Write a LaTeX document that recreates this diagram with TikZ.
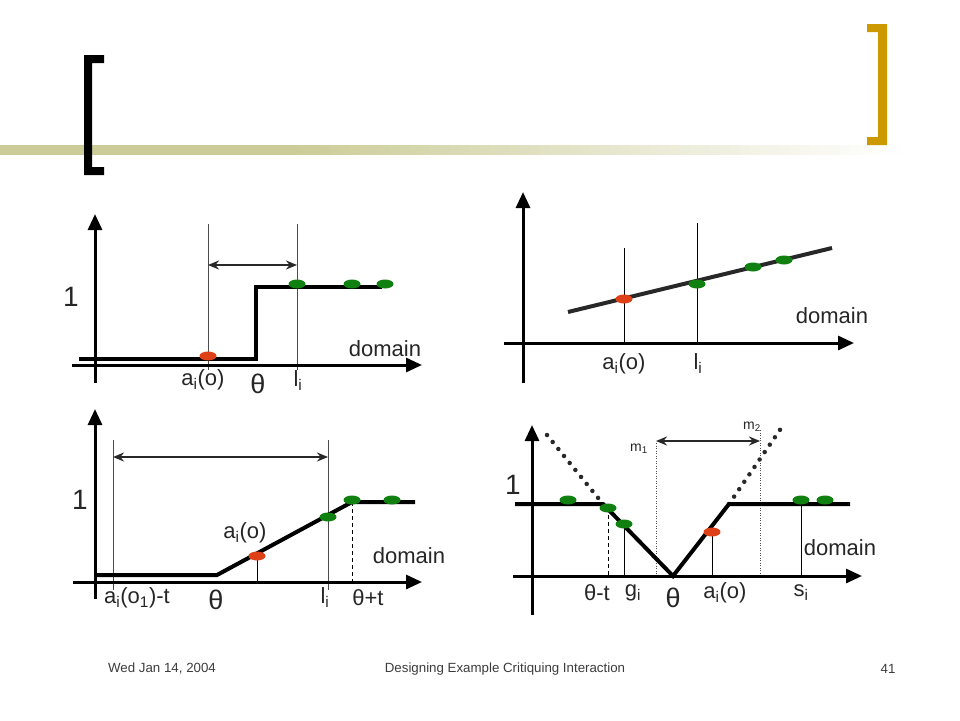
\documentclass[tikz,border=0pt]{standalone}
\usepackage{fontspec}
\setmainfont{Liberation Sans}
\usetikzlibrary{arrows.meta,shapes.geometric}
\definecolor{barol}{RGB}{204,204,153}
\definecolor{goldb}{RGB}{204,153,0}
\definecolor{redd}{RGB}{222,64,24}
\definecolor{grn}{RGB}{16,128,16}
\definecolor{darkln}{RGB}{40,40,40}
\definecolor{foot}{RGB}{60,60,60}
\tikzset{
  axis/.style={line width=3pt,-{Triangle[length=16pt,width=14pt]}},
  curve/.style={line width=4pt,darkln},
  curveb/.style={line width=4pt,black},
  thin/.style={line width=0.7pt,black!70},
  dbl/.style={line width=2.6pt,darkln,{Stealth[length=11pt,width=9pt]}-{Stealth[length=11pt,width=9pt]}},
  gdot/.style={ellipse,fill=grn,minimum width=17pt,minimum height=9pt,inner sep=0pt},
  rdot/.style={ellipse,fill=redd,minimum width=17pt,minimum height=9pt,inner sep=0pt},
  lab/.style={font=\fontsize{22}{24}\selectfont,inner sep=0pt,text=black!85},
  one/.style={font=\fontsize{28}{30}\selectfont,inner sep=0pt,text=black!85},
  th/.style={font=\fontsize{27}{29}\selectfont,inner sep=0pt,text=black!85},
  small/.style={font=\fontsize{14}{16}\selectfont,inner sep=0pt,text=black!85},
  ft/.style={font=\fontsize{13.3}{15}\selectfont,inner sep=0pt,text=foot},
  bigdots/.style={line width=4.5pt,line cap=round,dash pattern=on 0pt off 9pt,darkln},
  vdots/.style={line width=0.7pt,dash pattern=on 1pt off 1.5pt,black!70},
  vdash/.style={line width=0.8pt,dash pattern=on 4pt off 3pt,black}
}
\begin{document}
\begin{tikzpicture}[x=1pt,y=-1pt]
\useasboundingbox (0,0) rectangle (960,720);
% header
\fill[barol] (0,145) rectangle (301,155);
\foreach \k in {0,...,59}{
  \pgfmathsetmacro{\pc}{100-100*(\k+0.5)/60}
  \fill[barol!\pc!white] ({300+\k*10},145) rectangle ({311+\k*10},155);
}
\fill[black] (84,55) -- (104,55) -- (104,63) -- (92,63) -- (92,167) -- (104,167) -- (104,175) -- (84,175) -- cycle;
\fill[goldb] (867,24) -- (887,24) -- (887,145) -- (867,145) -- (867,137) -- (878,137) -- (878,32) -- (867,32) -- cycle;

% ---------- panel 1 ----------
\draw[thin] (208,224) -- (208,370);
\draw[thin] (297,224) -- (297,370);
\draw[axis] (95,383) -- (95,214);
\draw[axis] (72,365) -- (422,365);
\draw[curveb] (79,359) -- (256,359) -- (256,287) -- (382,287);
\draw[dbl] (208,265) -- (297,265);
\node[rdot] (p1r) at (208,356) {};
\node[gdot] (p1g1) at (297,284) {};
\node[gdot] (p1g2) at (352,284) {};
\node[gdot] (p1g3) at (385,284) {};
\node[one] (p1one) at (71,297) {1};
\node[lab] (p1dom) at (385,349) {domain};
\node[lab] (p1a) at (203,380) {a\textsubscript{i}(o)};
\node[th] (p1th) at (258,384) {θ};
\node[lab] (p1l) at (298,381) {l\textsubscript{i}};

% ---------- panel 2 ----------
\draw[thin,black] (624,248) -- (624,343);
\draw[thin,black] (697,223) -- (697,343);
\draw[axis] (523,383) -- (523,192);
\draw[axis] (504,343) -- (854,343);
\draw[curve] (568,312) -- (832,248);
\node[rdot] (p2r) at (624,299) {};
\node[gdot] (p2g1) at (697,284) {};
\node[gdot] (p2g2) at (753,267) {};
\node[gdot] (p2g3) at (784,260) {};
\node[lab] (p2dom) at (832,316) {domain};
\node[lab] (p2a) at (624,364) {a\textsubscript{i}(o)};
\node[lab] (p2l) at (698,364) {l\textsubscript{i}};

% ---------- panel 3 ----------
\draw[thin] (113,440) -- (113,590);
\draw[thin] (328,440) -- (328,590);
\draw[thin,black] (257,556) -- (257,582);
\draw[vdash] (352,502) -- (352,582);
\draw[axis] (95,599) -- (95,409);
\draw[axis] (73,582) -- (422,582);
\draw[curveb] (95,575) -- (217,575) -- (352,502) -- (415,502);
\draw[dbl] (113,457) -- (328,457);
\node[rdot] (p3r) at (257,556) {};
\node[gdot] (p3g1) at (328,517) {};
\node[gdot] (p3g2) at (352,500) {};
\node[gdot] (p3g3) at (392,500) {};
\node[one] (p3one) at (80,500) {1};
\node[lab] (p3a) at (245,533) {a\textsubscript{i}(o)};
\node[lab] (p3dom) at (409,556) {domain};
\node[lab] (p3a1) at (137,598) {a\textsubscript{i}(o\textsubscript{1})-t};
\node[th] (p3th) at (216,600) {θ};
\node[lab] (p3l) at (325,598) {l\textsubscript{i}};
\node[lab] (p3tt) at (368,598) {θ+t};

% ---------- panel 4 ----------
\draw[vdots] (656,443) -- (656,576);
\draw[vdots] (760,430) -- (760,576);
\draw[vdash] (608,508) -- (608,576);
\draw[thin,black] (624,524) -- (624,576);
\draw[thin,black] (712,532) -- (712,576);
\draw[thin,black] (801,500) -- (801,576);
\draw[axis] (532,615) -- (532,425);
\draw[axis] (513,576) -- (862,576);
\draw[bigdots] (547,435) -- (603,504);
\draw[bigdots] (729,504) -- (784,424);
\draw[curveb] (515,504) -- (603,504) -- (673,576) -- (729,504) -- (850,504);
\draw[dbl] (656,441) -- (760,441);
\node[gdot] (p4g1) at (568,500) {};
\node[gdot] (p4g2) at (608,508) {};
\node[gdot] (p4g3) at (624,524) {};
\node[rdot] (p4r) at (712,532) {};
\node[gdot] (p4g4) at (801,500) {};
\node[gdot] (p4g5) at (825,500) {};
\node[one] (p4one) at (513,485) {1};
\node[small] (p4m1) at (639,449) {m\textsubscript{1}};
\node[small] (p4m2) at (752,427) {m\textsubscript{2}};
\node[lab] (p4dom) at (840,548) {domain};
\node[lab] (p4tt) at (597,593) {θ-t};
\node[lab] (p4g) at (633,593) {g\textsubscript{i}};
\node[th] (p4th) at (673,598) {θ};
\node[lab] (p4a) at (725,593) {a\textsubscript{i}(o)};
\node[lab] (p4s) at (801,593) {s\textsubscript{i}};

% footer
\node[ft] (fdate) at (162,669) {Wed Jan 14, 2004};
\node[ft] (ftitle) at (505,669) {Designing Example Critiquing Interaction};
\node[ft] (fnum) at (888,669) {41};
\end{tikzpicture}
\end{document}
